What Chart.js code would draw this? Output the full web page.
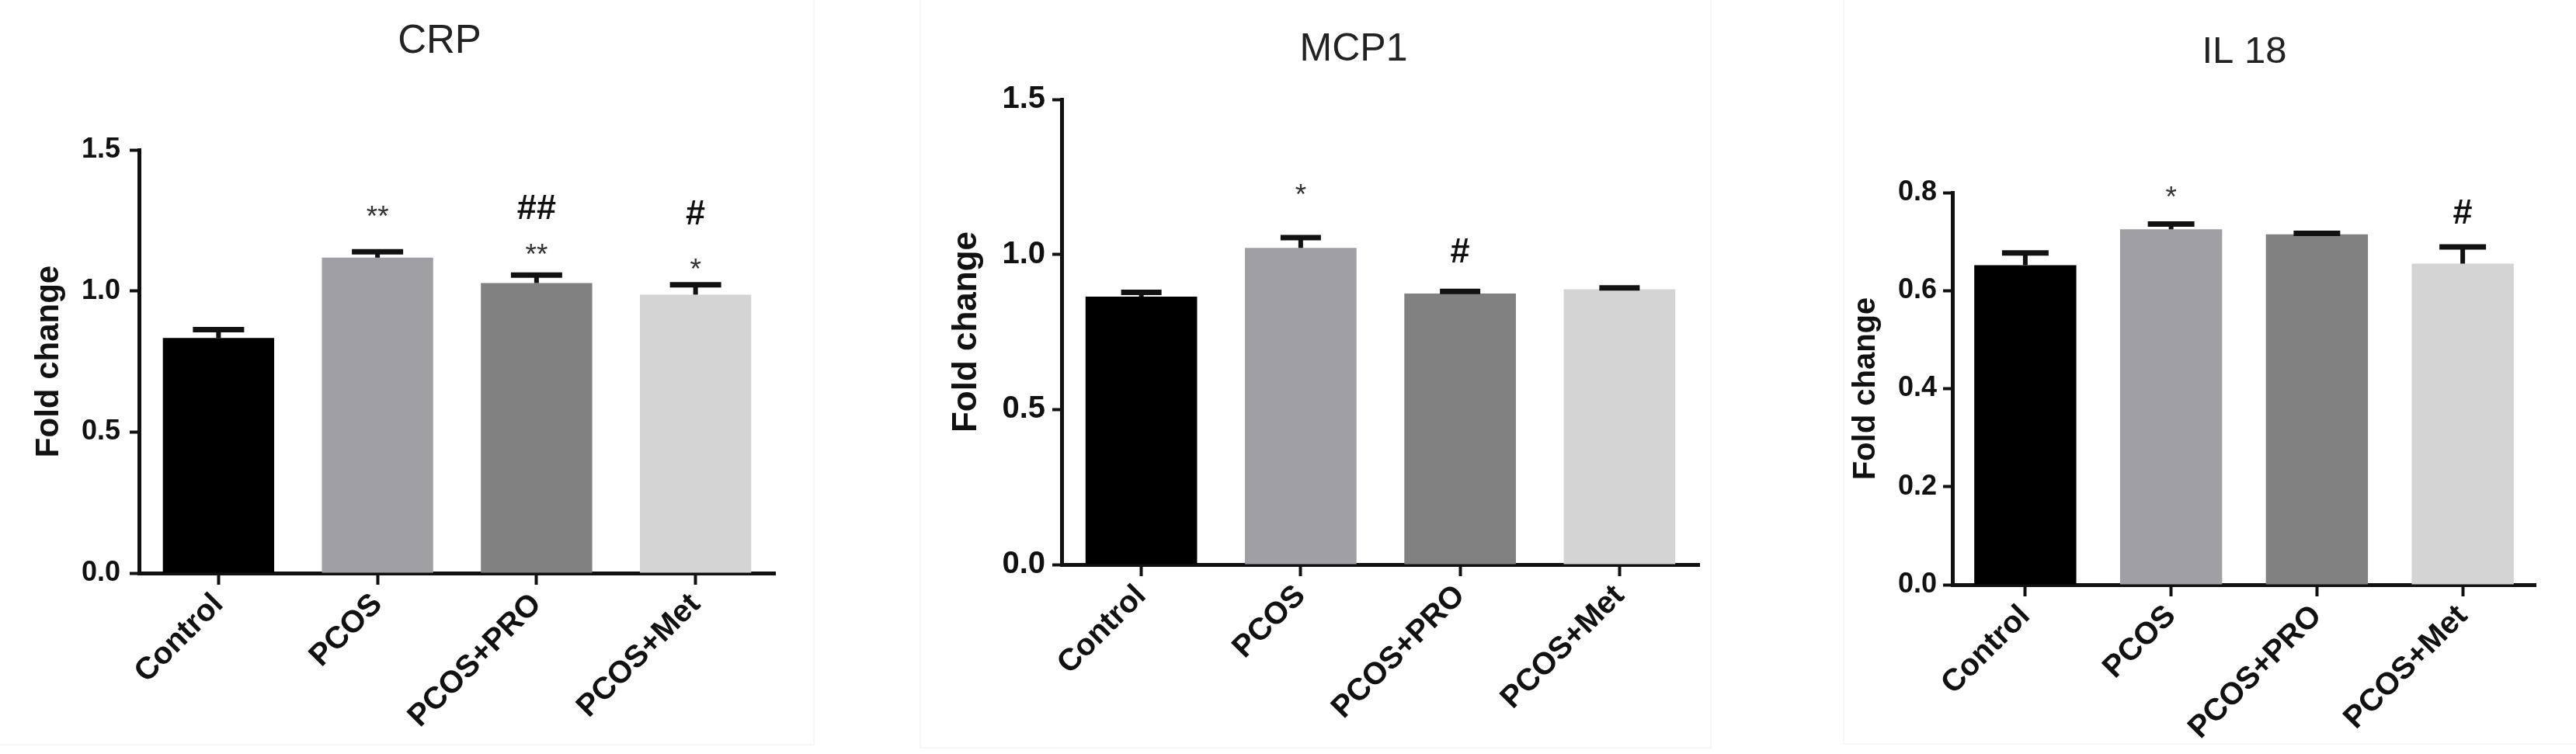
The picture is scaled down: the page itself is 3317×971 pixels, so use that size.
<!DOCTYPE html>
<html>
<head>
<meta charset="utf-8">
<script src="https://cdn.jsdelivr.net/npm/chart.js@4.4.1/dist/chart.umd.min.js"></script>
<style>
  html, body { margin:0; padding:0; background:#fff; }
  #wrap { position:relative; width:3317px; height:971px; overflow:hidden; background:#fff; }
  canvas { position:absolute; top:0; }
  .frame { position:absolute; border:2px solid #f7f7f7; box-sizing:border-box; }
</style>
</head>
<body>
<div id="wrap">
  <div class="frame" style="left:-4px; top:-4px; width:1053px; height:964px;"></div>
  <div class="frame" style="left:1184px; top:-4px; width:1020px; height:968px;"></div>
  <div class="frame" style="left:2373px; top:-4px; width:950px; height:963px;"></div>
  <canvas id="crp" width="1110" height="971" style="left:0px;"></canvas>
  <canvas id="mcp1" width="1140" height="971" style="left:1110px;"></canvas>
  <canvas id="il18" width="1067" height="971" style="left:2250px;"></canvas>
</div>
<script>
// ---------- data ----------
const categories = ['Control', 'PCOS', 'PCOS+PRO', 'PCOS+Met'];
const barColors = ['#000000', '#a09fa4', '#818181', '#d4d4d4'];

const crpMeans = [0.833, 1.118, 1.028, 0.987];
const crpErrors = [0.030, 0.021, 0.028, 0.035];
const crpTicks = [0.0, 0.5, 1.0, 1.5];
const crpStarLabels = ['', '**', '**', '*'];
const crpStarLevels = [null, 1.29, 1.153, 1.102];
const crpHashLabels = ['', '', '##', '#'];
const crpHashLevels = [null, null, 1.298, 1.278];

const mcp1Means = [0.864, 1.021, 0.874, 0.888];
const mcp1Errors = [0.014, 0.033, 0.007, 0.004];
const mcp1Ticks = [0.0, 0.5, 1.0, 1.5];
const mcp1StarLabels = ['', '*', '', ''];
const mcp1StarLevels = [null, 1.216, null, null];
const mcp1HashLabels = ['', '', '#', ''];
const mcp1HashLevels = [null, null, 1.013, null];

const il18Means = [0.652, 0.725, 0.715, 0.655];
const il18Errors = [0.025, 0.011, 0.002, 0.034];
const il18Ticks = [0.0, 0.2, 0.4, 0.6, 0.8];
const il18StarLabels = ['', '*', '', ''];
const il18StarLevels = [null, 0.805, null, null];
const il18HashLabels = ['', '', '', '#'];
const il18HashLevels = [null, null, null, 0.762];

// ---------- drawing ----------
const FONT = '"Liberation Sans", Arial, Helvetica, sans-serif';
const INK = '#111111';

function makeChart(id, o) {
  const marksPlugin = {
    id: 'marks_' + id,
    afterDatasetsDraw(chart) {
      const ctx = chart.ctx;
      const meta = chart.getDatasetMeta(0);
      const ys = chart.scales.y;
      ctx.save();
      // error bars (upper only)
      ctx.strokeStyle = INK;
      o.means.forEach((m, i) => {
        const x = meta.data[i].x;
        const yb = ys.getPixelForValue(m);
        const yt = ys.getPixelForValue(m + o.errors[i]);
        ctx.lineWidth = 6;
        ctx.beginPath(); ctx.moveTo(x, yb); ctx.lineTo(x, yt); ctx.stroke();
        ctx.lineWidth = 7;
        ctx.beginPath(); ctx.moveTo(x - o.capW / 2, yt); ctx.lineTo(x + o.capW / 2, yt); ctx.stroke();
      });
      // significance marks
      ctx.textAlign = 'center';
      ctx.textBaseline = 'alphabetic';
      o.starLabels.forEach((t, i) => {
        if (!t) return;
        const x = meta.data[i].x;
        const y = ys.getPixelForValue(o.starLevels[i]);
        ctx.fillStyle = '#333333';
        ctx.font = '37px ' + FONT;
        ctx.fillText(t, x, y + 0.575 * 37);
      });
      o.hashLabels.forEach((t, i) => {
        if (!t) return;
        const x = meta.data[i].x;
        const y = ys.getPixelForValue(o.hashLevels[i]);
        ctx.fillStyle = INK;
        ctx.font = 'bold 45px ' + FONT;
        ctx.fillText(t, x, y + 0.35 * 45);
      });
      // panel title
      ctx.fillStyle = '#222222';
      ctx.font = o.titleSize + 'px ' + FONT;
      ctx.fillText(o.title, o.titleX, o.titleY + 0.358 * o.titleSize);
      ctx.restore();
    }
  };

  return new Chart(document.getElementById(id), {
    type: 'bar',
    data: {
      labels: categories,
      datasets: [{
        data: o.means,
        backgroundColor: barColors,
        borderWidth: 0,
        categoryPercentage: 1.0,
        barPercentage: 0.7
      }]
    },
    options: {
      responsive: false,
      animation: false,
      devicePixelRatio: 1,
      layout: { padding: { left: 0, top: o.top, right: o.right, bottom: 0 } },
      plugins: { legend: { display: false }, tooltip: { enabled: false }, title: { display: false } },
      scales: {
        x: {
          type: 'category',
          offset: true,
          grid: { display: true, drawOnChartArea: false, drawTicks: true, tickLength: 15, tickWidth: 4, tickColor: INK, offset: false },
          border: { display: true, color: INK, width: 5 },
          ticks: {
            color: INK, padding: 2, minRotation: 45, maxRotation: 45, autoSkip: false,
            font: { family: FONT, size: 40, weight: 'bold' }
          },
          afterFit(s) { s.height = o.xHeight; }
        },
        y: {
          min: o.ticks[0],
          max: o.ticks[o.ticks.length - 1],
          afterBuildTicks(s) { s.ticks = o.ticks.map(v => ({ value: v })); },
          grid: { display: true, drawOnChartArea: false, drawTicks: true, tickLength: 12, tickWidth: 4, tickColor: INK },
          border: { display: true, color: INK, width: 5 },
          ticks: {
            color: INK, padding: o.tickPad,
            font: { family: FONT, size: o.tickSize, weight: 'bold' },
            callback: v => Number(v).toFixed(1)
          },
          title: {
            display: true, text: 'Fold change', color: INK,
            font: { family: FONT, size: o.yTitleSize, weight: 'bold' },
            padding: { top: o.yTitlePad, bottom: 0 }
          },
          afterFit(s) { s.width = o.yWidth; }
        }
      }
    },
    plugins: [marksPlugin]
  });
}

makeChart('crp', {
  means: crpMeans, errors: crpErrors, ticks: crpTicks,
  starLabels: crpStarLabels, starLevels: crpStarLevels,
  hashLabels: crpHashLabels, hashLevels: crpHashLevels,
  title: 'CRP', titleX: 566, titleY: 50, titleSize: 51,
  top: 193, right: 1110 - 998, xHeight: 971 - 738, yWidth: 179,
  tickSize: 36, tickPad: 12, yTitleSize: 42, yTitlePad: 38, capW: 66
});

makeChart('mcp1', {
  means: mcp1Means, errors: mcp1Errors, ticks: mcp1Ticks,
  starLabels: mcp1StarLabels, starLevels: mcp1StarLevels,
  hashLabels: mcp1HashLabels, hashLevels: mcp1HashLevels,
  title: 'MCP1', titleX: 633, titleY: 60, titleSize: 50,
  top: 128, right: 1140 - 2188 + 1110, xHeight: 971 - 727, yWidth: 1367 - 1110,
  tickSize: 40, tickPad: 9, yTitleSize: 44, yTitlePad: 108, capW: 52
});

makeChart('il18', {
  means: il18Means, errors: il18Errors, ticks: il18Ticks,
  starLabels: il18StarLabels, starLevels: il18StarLevels,
  hashLabels: il18HashLabels, hashLevels: il18HashLevels,
  title: 'IL 18', titleX: 640, titleY: 63, titleSize: 49,
  top: 248, right: 1067 - 3265 + 2250, xHeight: 971 - 753, yWidth: 2514 - 2250,
  tickSize: 36, tickPad: 8, yTitleSize: 40, yTitlePad: 129, capW: 60
});
</script>
</body>
</html>
